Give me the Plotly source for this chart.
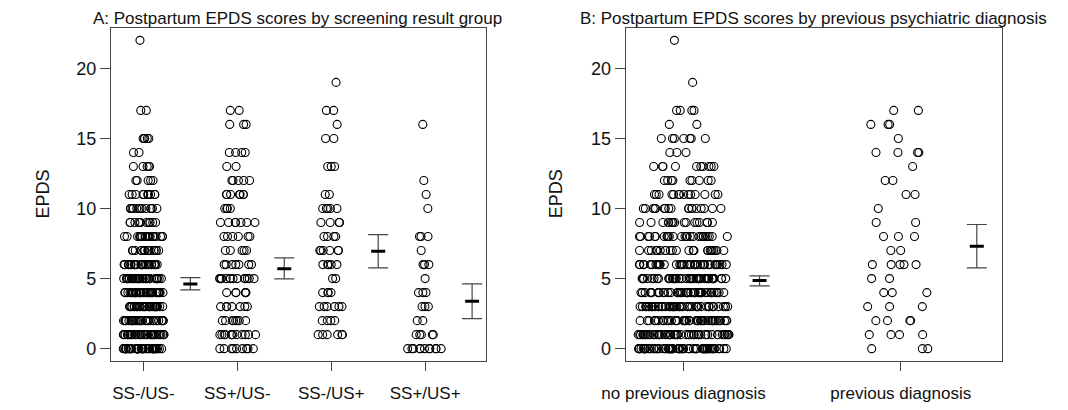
import numpy as np
import plotly.graph_objects as go

# ---------------- data (EPDS score -> number of women) ----------------
groups_a = ["SS-/US-", "SS+/US-", "SS-/US+", "SS+/US+"]

a1_scores = [22, 17, 15, 14, 13, 12, 11, 10, 9, 8, 7, 6, 5, 4, 3, 2, 1, 0]
a1_counts = [1, 2, 5, 2, 5, 5, 11, 13, 11, 22, 17, 25, 32, 35, 32, 35, 35, 45]

a2_scores = [17, 16, 14, 13, 12, 11, 10, 9, 8, 7, 6, 5, 4, 3, 2, 1, 0]
a2_counts = [2, 3, 4, 2, 5, 7, 4, 7, 6, 5, 7, 14, 6, 7, 8, 12, 9]

a3_scores = [19, 17, 16, 15, 13, 11, 10, 9, 8, 7, 6, 5, 4, 3, 2, 1]
a3_counts = [1, 2, 1, 2, 3, 2, 5, 4, 4, 6, 5, 2, 4, 6, 4, 6]

a4_scores = [16, 12, 11, 10, 8, 7, 6, 5, 4, 3, 2, 1, 0]
a4_counts = [1, 1, 1, 1, 3, 1, 3, 1, 3, 3, 2, 5, 11]

a_means = [4.62, 5.71, 6.95, 3.38]
a_ci_low = [4.19, 4.98, 5.76, 2.14]
a_ci_high = [5.07, 6.48, 8.14, 4.62]

groups_b = ["no previous diagnosis", "previous diagnosis"]

b1_scores = [22, 19, 17, 16, 15, 14, 13, 12, 11, 10, 9, 8, 7, 6, 5, 4, 3, 2, 1, 0]
b1_counts = [1, 1, 4, 2, 7, 3, 10, 9, 14, 18, 18, 28, 25, 38, 45, 45, 48, 48, 55, 65]

b2_scores = [17, 16, 15, 14, 13, 12, 11, 10, 9, 8, 7, 6, 5, 4, 3, 2, 1, 0]
b2_counts = [2, 3, 1, 4, 1, 2, 2, 1, 2, 3, 2, 5, 2, 3, 3, 4, 4, 3]

b_means = [4.86, 7.31]
b_ci_low = [4.48, 5.76]
b_ci_high = [5.19, 8.86]

y_ticks = [0, 5, 10, 15, 20]

# ---------------- figure ----------------
W, H = 1068, 410
FONT = "Liberation Sans, Arial, sans-serif"
INK = "#111111"
FRAME = "#444444"

fig = go.Figure()


def px_x(p):
    return p / W


def px_y(p):
    return 1 - p / H


def add_strip(scores, counts, pos, width, xa, ya):
    vals = np.repeat(scores, counts)
    fig.add_trace(go.Box(
        y=vals, x=[pos] * len(vals), xaxis=xa, yaxis=ya,
        boxpoints="all", jitter=1, pointpos=0, width=width,
        fillcolor="rgba(0,0,0,0)", line=dict(width=0, color="rgba(0,0,0,0)"),
        marker=dict(symbol="circle-open", size=8, color="black",
                    line=dict(width=1.1, color="black")),
        showlegend=False, hoverinfo="y",
    ))


def add_means(xpos, means, lo, hi, xa, ya):
    m = np.array(means)
    fig.add_trace(go.Scatter(
        x=xpos, y=means, xaxis=xa, yaxis=ya, mode="markers",
        marker=dict(symbol="line-ew", size=10, color="black",
                    line=dict(width=3, color="black")),
        error_y=dict(type="data", symmetric=False,
                     array=list(np.array(hi) - m),
                     arrayminus=list(m - np.array(lo)),
                     color=FRAME, thickness=1.2, width=10),
        showlegend=False,
    ))


a_data = [(a1_scores, a1_counts), (a2_scores, a2_counts),
          (a3_scores, a3_counts), (a4_scores, a4_counts)]
for i, (s, c) in enumerate(a_data):
    add_strip(s, c, i + 1, 0.44, "x", "y")
add_means([i + 1.5 for i in range(4)], a_means, a_ci_low, a_ci_high, "x", "y")

b_data = [(b1_scores, b1_counts), (b2_scores, b2_counts)]
for i, (s, c) in enumerate(b_data):
    add_strip(s, c, i + 1, 0.42, "x2", "y2")
add_means([i + 1.35 for i in range(2)], b_means, b_ci_low, b_ci_high, "x2", "y2")

ydom = [px_y(361), px_y(28)]
common_axis = dict(showline=True, mirror=True, linecolor=FRAME, linewidth=1.2,
                   showgrid=False, zeroline=False, ticks="outside",
                   tickcolor=FRAME, tickwidth=1.2)
xfont = dict(family=FONT, size=17, color=INK)
yfont = dict(family=FONT, size=18, color=INK)

fig.update_layout(
    width=W, height=H, margin=dict(l=0, r=0, t=0, b=0),
    paper_bgcolor="white", plot_bgcolor="white",
    boxmode="overlay",
    xaxis=dict(domain=[px_x(90), px_x(473)], range=[0.656, 4.646],
               tickvals=[1, 2, 3, 4], ticktext=groups_a, ticklen=9,
               ticklabelstandoff=7, anchor="y", tickfont=xfont, **common_axis),
    yaxis=dict(domain=ydom, range=[-0.88, 22.88], tickvals=y_ticks,
               ticklen=10, anchor="x", tickfont=yfont, **common_axis),
    xaxis2=dict(domain=[px_x(616), px_x(1001)], range=[0.734, 2.468],
                tickvals=[1, 2], ticktext=groups_b, ticklen=9,
                ticklabelstandoff=7, anchor="y2", tickfont=xfont, **common_axis),
    yaxis2=dict(domain=ydom, range=[-0.88, 22.88], tickvals=y_ticks,
                ticklen=10, anchor="x2", tickfont=yfont, **common_axis),
)

titles = [("A: Postpartum EPDS scores by screening result group", 281),
          ("B: Postpartum EPDS scores by previous psychiatric diagnosis", 808)]
for text, cx in titles:
    fig.add_annotation(text=text, x=px_x(cx), y=px_y(18), xref="paper", yref="paper",
                       showarrow=False, xanchor="center", yanchor="middle",
                       font=dict(family=FONT, size=17, color=INK))

for cx in (20, 545):
    fig.add_annotation(text="EPDS", x=px_x(cx), y=px_y(194), xref="paper", yref="paper",
                       showarrow=False, xanchor="center", yanchor="middle", textangle=-90,
                       font=dict(family=FONT, size=18, color=INK))

fig.write_html("out.html", config={"displayModeBar": False},
               post_script="document.body.style.margin='0';")
